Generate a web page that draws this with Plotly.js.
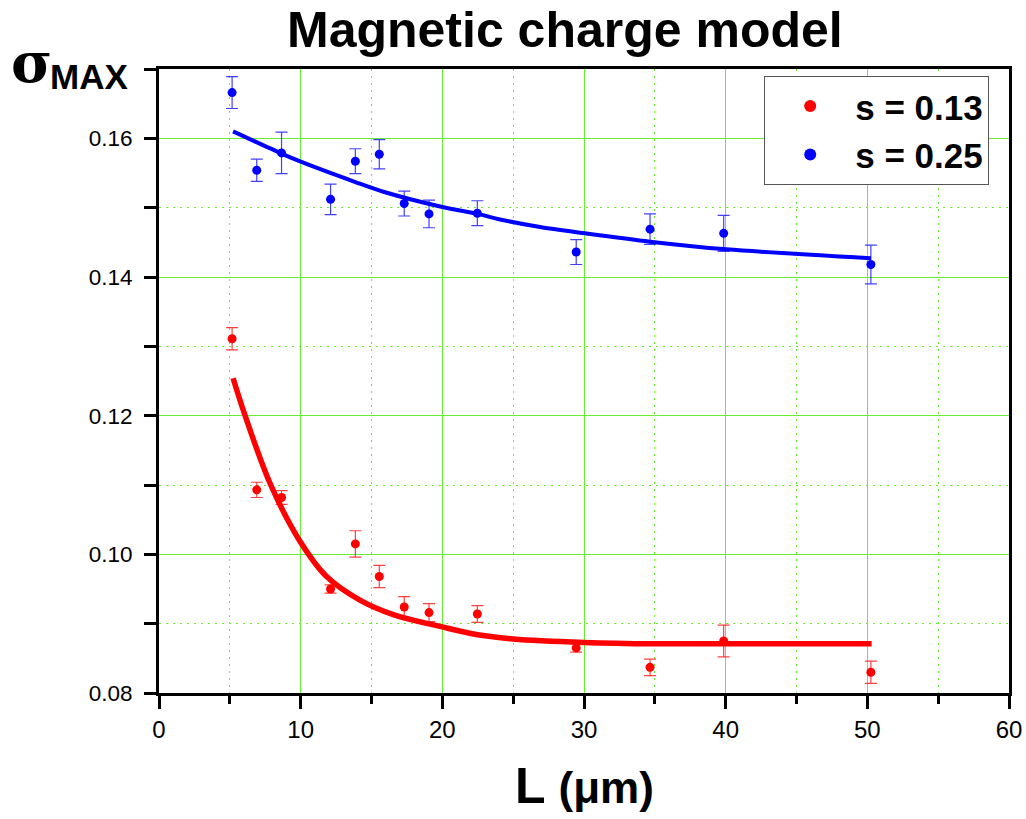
<!DOCTYPE html>
<html>
<head>
<meta charset="utf-8">
<script src="https://cdn.plot.ly/plotly-3.0.1.min.js"></script>
<style>body{margin:0;background:#fff;} #chart{width:1026px;height:819px;}</style>
</head>
<body>
<div id="chart"></div>
<script>
// Data
const L = [5.16, 6.9, 8.65, 12.11, 13.86, 15.55, 17.31, 19.06, 22.47, 29.45, 34.66, 39.86, 50.25];
const sigmaS013 = [0.1311, 0.1093, 0.1082, 0.0950, 0.1015, 0.0968, 0.0924, 0.0916, 0.0914, 0.0865, 0.0837, 0.0875, 0.0830];
const errS013 = [0.0016, 0.0011, 0.0010, 0.0006, 0.0019, 0.0016, 0.0015, 0.0013, 0.0012, 0.0006, 0.0012, 0.0023, 0.0016];
const sigmaS025 = [0.1666, 0.1554, 0.1579, 0.1512, 0.1567, 0.1577, 0.1506, 0.1491, 0.1492, 0.1436, 0.1469, 0.1463, 0.1418];
const errS025 = [0.0023, 0.0016, 0.0030, 0.0022, 0.0018, 0.0021, 0.0018, 0.0020, 0.0018, 0.0018, 0.0022, 0.0026, 0.0028];

// Fit curves
const fitL013 = [5.23, 6.08, 7.89, 9.95, 11.83, 14.18, 16.54, 19.84, 22.5, 25.0, 30.0, 35.0, 40.0, 50.3];
const fitS013 = [0.1254, 0.1200, 0.1100, 0.1019, 0.0968, 0.0934, 0.0913, 0.0896, 0.0884, 0.0878, 0.0873, 0.0871, 0.0871, 0.0871];
const fitL025 = [5.23, 8.65, 10.05, 13.86, 15.84, 20.0, 22.5, 24.07, 26.9, 30.08, 34.66, 40.06, 50.25];
const fitS025 = [0.1610, 0.1578, 0.1566, 0.1537, 0.1523, 0.1501, 0.1491, 0.1483, 0.1472, 0.1463, 0.1451, 0.1440, 0.1427];

const seriesNames = ['s = 0.13', 's = 0.25'];
const xTickVals = [0, 10, 20, 30, 40, 50, 60];
const yTickVals = [0.08, 0.10, 0.12, 0.14, 0.16];

const red = '#ff0000', blue = '#0000ff';
const grid = '#66ee33';
const FAM = 'Liberation Sans, Arial, sans-serif';

const traces = [
  {x: fitL013, y: fitS013, mode: 'lines', line: {color: red, width: 5.5, shape: 'spline', smoothing: 1}, showlegend: false, hoverinfo: 'skip'},
  {x: fitL025, y: fitS025, mode: 'lines', line: {color: blue, width: 4, shape: 'spline', smoothing: 0.8}, showlegend: false, hoverinfo: 'skip'},
  {x: L, y: sigmaS013, mode: 'markers', name: seriesNames[0], legendgroup: 'a',
   marker: {color: red, size: 9},
   error_y: {type: 'data', array: errS013, visible: true, color: 'rgba(255,0,0,0.75)', thickness: 1.2, width: 6}},
  {x: L, y: sigmaS025, mode: 'markers', name: seriesNames[1], legendgroup: 'b',
   marker: {color: blue, size: 9},
   error_y: {type: 'data', array: errS025, visible: true, color: 'rgba(0,0,255,0.75)', thickness: 1.2, width: 6}}
];

const layout = {
  width: 1026, height: 819,
  margin: {l: 159, r: 17, t: 69, b: 126},
  paper_bgcolor: '#fff', plot_bgcolor: '#fff',
  showlegend: true,
  xaxis: {
    range: [0, 60], tickvals: xTickVals, ticktext: xTickVals.map(String),
    ticks: 'outside', ticklen: 13, tickwidth: 3, tickcolor: '#000',
    showline: true, linewidth: 3, linecolor: '#000', mirror: true,
    showgrid: true, gridcolor: grid, gridwidth: 1, zeroline: false,
    tickfont: {family: FAM, size: 24, color: '#000'},
    minor: {dtick: 5, tick0: 0, ticks: 'outside', ticklen: 8, tickwidth: 3, tickcolor: '#000',
            showgrid: true, gridcolor: grid, griddash: '2px,5px', gridwidth: 1}
  },
  yaxis: {
    range: [0.08, 0.17], tickvals: yTickVals, ticktext: yTickVals.map(v => v.toFixed(2)),
    ticks: 'outside', ticklen: 12, tickwidth: 3, tickcolor: '#000', ticklabelstandoff: 7,
    showline: true, linewidth: 3, linecolor: '#000', mirror: true,
    showgrid: true, gridcolor: grid, gridwidth: 1, zeroline: false,
    tickfont: {family: FAM, size: 22.5, color: '#000'},
    minor: {dtick: 0.01, tick0: 0.08, ticks: 'outside', ticklen: 12, tickwidth: 3, tickcolor: '#000',
            showgrid: true, gridcolor: grid, griddash: '2px,5px', gridwidth: 1}
  },
  legend: {
    x: 0.712, y: 0.989, xanchor: 'left', yanchor: 'top',
    bgcolor: '#fff', bordercolor: '#555', borderwidth: 1,
    font: {family: FAM, size: 35, color: '#000', weight: 'bold'},
    tracegroupgap: 0, itemsizing: 'constant', itemwidth: 80,
    entrywidth: 246, entrywidthmode: 'pixels'
  },
  annotations: [
    {text: '<b>Magnetic charge model</b>', xref: 'paper', yref: 'paper', x: 0.478, y: 1.0, yshift: 69,
     xanchor: 'center', yanchor: 'top', showarrow: false,
     font: {family: FAM, size: 50, color: '#000'}},
    {text: '<b>σ</b>', xref: 'paper', yref: 'paper', x: 0, y: 1, xshift: -150, yshift: -28,
     xanchor: 'left', yanchor: 'bottom', showarrow: false,
     font: {family: 'DejaVu Serif, serif', size: 56, color: '#000'}},
    {text: '<b>MAX</b>', xref: 'paper', yref: 'paper', x: 0, y: 1, xshift: -111, yshift: -29,
     xanchor: 'left', yanchor: 'bottom', showarrow: false,
     font: {family: FAM, size: 35, color: '#000'}},
    {text: '<b>L <span style="font-size:44px">(μm)</span></b>', xref: 'paper', yref: 'paper', x: 0.5, y: 0, yshift: -93,
     xanchor: 'center', yanchor: 'middle', showarrow: false,
     font: {family: FAM, size: 50, color: '#000'}}
  ]
};

Plotly.newPlot('chart', traces, layout, {displayModeBar: false, staticPlot: true});
</script>
</body>
</html>
